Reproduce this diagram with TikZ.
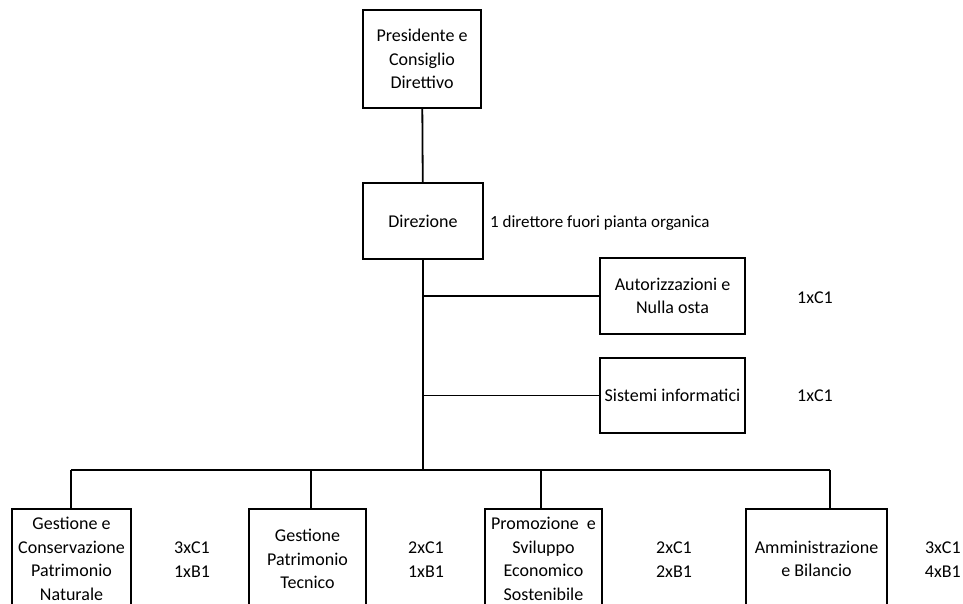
\documentclass[tikz,border=0pt]{standalone}
\usepackage{fontspec}
\setmainfont{Carlito}
\begin{document}
\begin{tikzpicture}[x=1pt,y=-1pt,
  box/.style={draw,line width=1.5pt,inner sep=0pt,align=center,
    font=\fontsize{18}{23.5}\selectfont},
  lbl/.style={inner sep=0pt,align=center,font=\fontsize{18}{24}\selectfont},
  conn/.style={line width=1.8pt}]
\useasboundingbox (0,0) rectangle (963,604);
\clip (0,0) rectangle (963,604);
\node[box,minimum width=118pt,minimum height=98pt] (pres) at (422,59) {Presidente e\\Consiglio\\Direttivo};
\node[box,minimum width=120pt,minimum height=76pt] (dir) at (423,221) {Direzione};
\node[lbl,anchor=west,font=\fontsize{17}{22}\selectfont] (note) at (490,223) {1 direttore fuori pianta organica};
\node[box,minimum width=145pt,minimum height=76pt] (aut) at (672.5,296) {Autorizzazioni e\\Nulla osta};
\node[box,minimum width=145pt,minimum height=75pt] (sis) at (672.5,395.5) {Sistemi informatici};
\node[lbl] (autl) at (815,298) {1xC1};
\node[lbl] (sisl) at (815,396) {1xC1};
\node[box,minimum width=119pt,minimum height=100pt] (b1) at (71.5,559) {Gestione e\\Conservazione\\Patrimonio\\Naturale};
\node[box,minimum width=117pt,minimum height=100pt] (b2) at (307.5,559) {Gestione\\Patrimonio\\Tecnico};
\node[box,minimum width=117pt,minimum height=100pt] (b3) at (543.5,559) {Promozione\ \ e\\Sviluppo\\Economico\\Sostenibile};
\node[box,minimum width=141pt,minimum height=100pt] (b4) at (816.5,559) {Amministrazione\\e Bilancio};
\node[lbl] (l1) at (192,560) {3xC1\\1xB1};
\node[lbl] (l2) at (426,560) {2xC1\\1xB1};
\node[lbl] (l3) at (674,560) {2xC1\\2xB1};
\node[lbl,anchor=east] (l4) at (961,560) {3xC1\\4xB1};
\coordinate (bus) at (423,470);
\coordinate (d1) at (71,470);
\coordinate (d2) at (311,470);
\coordinate (d3) at (541,470);
\coordinate (d4) at (830,470);
\draw[conn] (pres) -- (dir);
\draw[conn] (dir.south) -- (bus);
\draw[conn] (dir.south |- aut.west) -- (aut.west);
\draw[conn] (dir.south |- sis.west) -- (sis.west);
\draw[conn] (d1) -- (d4);
\draw[conn] (d1) -- (d1 |- b1.north);
\draw[conn] (d2) -- (d2 |- b2.north);
\draw[conn] (d3) -- (d3 |- b3.north);
\draw[conn] (d4) -- (d4 |- b4.north);
\end{tikzpicture}
\end{document}
